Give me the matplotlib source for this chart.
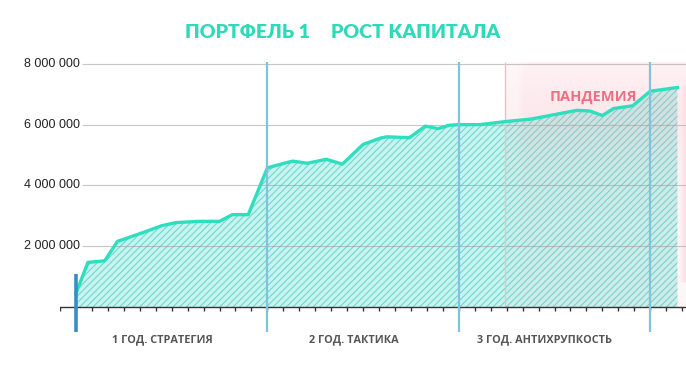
import numpy as np
import matplotlib.pyplot as plt
import matplotlib as mpl

# capital by month, values in millions
months = [0, 0.75, 1.8, 2.6, 4.2, 5.4, 6.3, 7.8, 9.0, 9.8, 10.8,
          12.0, 13.2, 13.6, 14.5, 15.7, 16.7, 18.0, 19.1, 19.5, 20.9, 21.9, 22.7, 23.4,
          24.0, 25.3, 26.9, 28.5, 29.5, 31.4, 32.2, 33.0, 33.7, 34.9, 36.0, 37.7]
capital = [0.45, 1.47, 1.52, 2.16, 2.45, 2.68, 2.78, 2.82, 2.82, 3.04, 3.04,
           4.58, 4.75, 4.80, 4.73, 4.86, 4.70, 5.35, 5.56, 5.60, 5.57, 5.95, 5.87, 5.98,
           6.00, 6.00, 6.10, 6.18, 6.28, 6.47, 6.45, 6.30, 6.53, 6.62, 7.10, 7.22]
capital = [c * 1e6 for c in capital]

yticks = [2e6, 4e6, 6e6, 8e6]
year_marks = [12, 24, 36]
year_labels = ['1 ГОД. СТРАТЕГИЯ', '2 ГОД. ТАКТИКА', '3 ГОД. АНТИХРУПКОСТЬ']
pandemic_start = 26.9

mpl.rcParams['hatch.linewidth'] = 0.8
mpl.rcParams['hatch.color'] = '#6fd9d0'

W, H = 686, 371
fig = plt.figure(figsize=(W / 100, H / 100), dpi=100)
# axes spans px 60..686 horizontally and 62..332 vertically
ax = fig.add_axes([60 / W, 1 - 332 / H, 626 / W, 270 / H])
x0, x1 = -1.0, 38.24
ax.set_xlim(x0, x1)
ax.set_ylim(-0.82e6, 8.06e6)
ax.axis('off')

# pandemic shading: soft pink glow, drawn over the area so the hatch greys out
ny, nx = 120, 60
yy = np.linspace(0, 1, ny)[:, None]
xx = np.linspace(0, 1, nx)[None, :]
glow = 0.10 + 0.12 * np.exp(-((yy - 0.78) / 0.2) ** 2)
glow = glow * np.clip(xx * 10, 0.6, 1)
glow = np.maximum(glow, 0.3 * np.clip(1 - (1 - xx) * 25, 0, 1) * (yy > 0.1) * (yy < 0.9))
grad = np.zeros((ny, nx, 4))
grad[..., :3] = mpl.colors.to_rgb('#f59aaa')
grad[..., 3] = glow
ax.imshow(grad, extent=[pandemic_start, x1, 0, 8.06e6], aspect='auto',
          origin='lower', zorder=3.5, interpolation='bilinear')
ax.vlines(pandemic_start, 0, 8.06e6, color='#e3c6cb', lw=1.0, zorder=3.6)

# area
ax.fill_between(months, capital, 0, facecolor='#c8f4f0', edgecolor='#6fd9d0',
                hatch='/////', linewidth=0, zorder=2)
ax.plot(months, capital, color='#2ddfbe', lw=2.4, zorder=4, solid_joinstyle='round')

# grid
ax.hlines(yticks, 0.4, x1, color='#999999', lw=0.8, alpha=0.55, zorder=3)
for v in yticks:
    ax.text(0.25, v, f'{int(v):,}'.replace(',', ' '), ha='right', va='center',
            fontsize=9, family='Liberation Sans', color='#222222')

# x axis with monthly ticks
ax.axhline(0, color='#333333', lw=1.0, zorder=5)
ax.vlines(np.arange(-1, 39), -0.14e6, 0, color='#333333', lw=1.0, zorder=5)

# year separators
ax.vlines(0, -0.82e6, 1.08e6, color='#3a8cc8', lw=2.6, zorder=6)
ax.vlines(year_marks, -0.82e6, 8.06e6, color='#7fc3dc', lw=1.6, zorder=6)

for i, lab in enumerate(year_labels):
    ax.text(i * 12 + 5.4, -1.07e6, lab, ha='center', va='center', fontsize=7.8,
            family='Open Sans', weight='bold', color='#555555', clip_on=False)

ax.text(35.17, 6.9e6, 'ПАНДЕМИЯ', ha='right', va='center', fontsize=10.5,
        family='Open Sans', weight='bold', color='#ec6f82', zorder=7)

fig.text(185 / W, 1 - 32 / H, 'ПОРТФЕЛЬ 1', ha='left', va='center', fontsize=14,
         family='Lato', weight='heavy', color='#2fd9b9')
fig.text(500 / W, 1 - 32 / H, 'РОСТ КАПИТАЛА', ha='right', va='center', fontsize=14,
         family='Lato', weight='heavy', color='#2fd9b9')

fig.savefig('out.png', dpi=100)
